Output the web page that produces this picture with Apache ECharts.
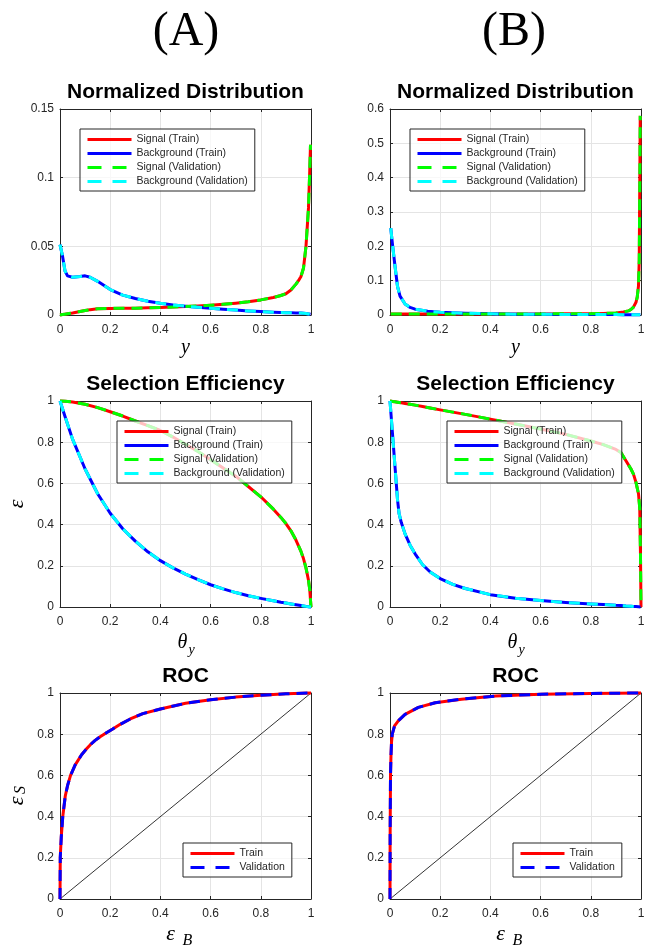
<!DOCTYPE html>
<html><head><meta charset="utf-8">
<script src="https://cdn.jsdelivr.net/npm/echarts@6/dist/echarts.min.js"></script>
<style>html,body{margin:0;padding:0;background:#fff}#c{width:662px;height:948px}</style>
</head><body><div id="c"></div>
<script>
// ---------- DATA ----------
// (A) Normalized distribution
const distA_x   = [0, 0.01, 0.02, 0.03, 0.05, 0.08, 0.1, 0.12, 0.15, 0.2, 0.25, 0.3, 0.35, 0.4, 0.45, 0.5, 0.55, 0.6, 0.65, 0.7, 0.75, 0.8, 0.85, 0.88, 0.9, 0.92, 0.94, 0.95, 0.96, 0.97, 0.98, 0.99, 0.995, 0.998];
const distA_sig = [0, 0.0003, 0.0006, 0.0009, 0.0015, 0.0026, 0.0033, 0.0039, 0.0045, 0.0048, 0.0049, 0.0050, 0.0052, 0.0055, 0.0058, 0.0062, 0.0066, 0.0071, 0.0078, 0.0086, 0.0096, 0.011, 0.0127, 0.0142, 0.0155, 0.0182, 0.0225, 0.025, 0.028, 0.034, 0.05, 0.078, 0.105, 0.124];
const distA_bkg = [0.0512, 0.043, 0.032, 0.0285, 0.0275, 0.028, 0.0285, 0.0275, 0.0245, 0.0185, 0.0145, 0.012, 0.010, 0.0085, 0.0073, 0.0064, 0.0056, 0.0049, 0.0042, 0.0036, 0.003, 0.0025, 0.002, 0.0018, 0.0017, 0.0016, 0.0015, 0.0015, 0.0014, 0.0013, 0.0011, 0.0008, 0.0006, 0.0005];
// (B) Normalized distribution
const distB_x   = [0.003, 0.01, 0.02, 0.03, 0.04, 0.06, 0.08, 0.1, 0.15, 0.2, 0.3, 0.4, 0.5, 0.6, 0.7, 0.8, 0.85, 0.9, 0.93, 0.95, 0.96, 0.97, 0.98, 0.985, 0.99, 0.993, 0.997];
const distB_sig = [0.003, 0.003, 0.003, 0.003, 0.003, 0.003, 0.003, 0.003, 0.003, 0.003, 0.003, 0.003, 0.003, 0.0032, 0.0035, 0.004, 0.0047, 0.006, 0.0085, 0.012, 0.016, 0.023, 0.037, 0.052, 0.085, 0.16, 0.58];
const distB_bkg = [0.253, 0.205, 0.142, 0.083, 0.055, 0.032, 0.022, 0.017, 0.011, 0.008, 0.005, 0.0035, 0.0025, 0.002, 0.0017, 0.0014, 0.0012, 0.0011, 0.001, 0.001, 0.0009, 0.0009, 0.0008, 0.0007, 0.0006, 0.0005, 0.0004];
// (A) Selection efficiency
const effA_x   = [0, 0.02, 0.05, 0.1, 0.15, 0.2, 0.25, 0.3, 0.35, 0.4, 0.45, 0.5, 0.55, 0.6, 0.65, 0.7, 0.75, 0.8, 0.85, 0.88, 0.9, 0.92, 0.94, 0.96, 0.97, 0.98, 0.99, 0.995, 1];
const effA_sig = [1, 0.999, 0.995, 0.984, 0.968, 0.948, 0.927, 0.903, 0.88, 0.857, 0.825, 0.79, 0.755, 0.715, 0.675, 0.635, 0.585, 0.535, 0.475, 0.435, 0.405, 0.37, 0.325, 0.27, 0.235, 0.19, 0.13, 0.085, 0];
const effA_bkg = [1, 0.925, 0.815, 0.67, 0.55, 0.455, 0.38, 0.32, 0.268, 0.225, 0.19, 0.16, 0.133, 0.108, 0.088, 0.07, 0.055, 0.042, 0.03, 0.023, 0.019, 0.015, 0.011, 0.007, 0.005, 0.003, 0.0015, 0.001, 0];
// (B) Selection efficiency
const effB_x   = [0, 0.01, 0.02, 0.03, 0.036, 0.045, 0.06, 0.08, 0.1, 0.13, 0.16, 0.2, 0.25, 0.3, 0.4, 0.5, 0.6, 0.7, 0.8, 0.85, 0.9, 0.92, 0.94, 0.96, 0.97, 0.98, 0.99, 0.995, 0.998, 1];
const effB_sig = [1, 0.998, 0.996, 0.994, 0.993, 0.991, 0.988, 0.984, 0.98, 0.973, 0.966, 0.957, 0.946, 0.935, 0.912, 0.888, 0.864, 0.838, 0.806, 0.788, 0.765, 0.75, 0.71, 0.67, 0.645, 0.605, 0.55, 0.48, 0.25, 0];
const effB_bkg = [1, 0.84, 0.68, 0.52, 0.455, 0.41, 0.355, 0.30, 0.258, 0.205, 0.17, 0.138, 0.11, 0.09, 0.06, 0.043, 0.031, 0.022, 0.015, 0.012, 0.008, 0.007, 0.005, 0.004, 0.003, 0.002, 0.001, 0.0005, 0.0002, 0];
// ROC curves (x = background efficiency, y = signal efficiency)
const rocA_x = [0, 0.001, 0.005, 0.011, 0.021, 0.03, 0.042, 0.06, 0.086, 0.105, 0.12, 0.14, 0.16, 0.185, 0.21, 0.24, 0.28, 0.33, 0.4, 0.5, 0.6, 0.7, 0.8, 0.9, 1];
const rocA_y = [0, 0.2, 0.3, 0.4, 0.5, 0.55, 0.6, 0.65, 0.7, 0.728, 0.748, 0.77, 0.788, 0.807, 0.825, 0.848, 0.874, 0.9, 0.922, 0.95, 0.967, 0.98, 0.989, 0.996, 1];
const rocB_x = [0, 0.0005, 0.002, 0.004, 0.006, 0.009, 0.018, 0.033, 0.06, 0.113, 0.18, 0.285, 0.42, 0.6, 0.8, 1];
const rocB_y = [0, 0.3, 0.6, 0.7, 0.76, 0.8, 0.84, 0.865, 0.896, 0.93, 0.953, 0.97, 0.985, 0.994, 0.998, 1];
const diag_x = [0, 1];
const diag_y = [0, 1];
// Validation curves coincide with the training curves at this resolution
const distA_sigVal = distA_sig, distA_bkgVal = distA_bkg;
const distB_sigVal = distB_sig, distB_bkgVal = distB_bkg;
const effA_sigVal = effA_sig, effA_bkgVal = effA_bkg;
const effB_sigVal = effB_sig, effB_bkgVal = effB_bkg;
const rocA_yVal = rocA_y, rocB_yVal = rocB_y;

const namesEff = ['Signal (Train)', 'Background (Train)', 'Signal (Validation)', 'Background (Validation)'];
const namesRoc = ['Train', 'Validation'];
const yMaxs  = [0.15, 0.6, 1, 1, 1, 1];
const ySteps = [0.05, 0.1, 0.2, 0.2, 0.2, 0.2];

// ---------- STYLE / LAYOUT ----------
const SANS = 'Liberation Sans, Arial, Helvetica, sans-serif';
const SERIF = 'Liberation Serif, Times New Roman, serif';
const AXIS = '#262626';
const GRIDC = '#e4e4e4';
const DASH = [11, 7];

const grids = [
  {left: 60,  top: 109, width: 251, height: 206},
  {left: 390, top: 109, width: 251, height: 206},
  {left: 60,  top: 401, width: 251, height: 206},
  {left: 390, top: 401, width: 251, height: 206},
  {left: 60,  top: 693, width: 251, height: 206},
  {left: 390, top: 693, width: 251, height: 206}
];

function axisBase(i, max, step) {
  return {
    type: 'value', gridIndex: i, min: 0, max: max, interval: step,
    axisLine: {show: true, onZero: false, lineStyle: {color: AXIS, width: 1}},
    axisTick: {show: true, inside: true, length: 3, lineStyle: {color: AXIS, width: 1}},
    axisPointer: {show: false}
  };
}
const xAxes = [], yAxes = [];
grids.forEach((g, i) => {
  xAxes.push(Object.assign(axisBase(i, 1, 0.2), {
    position: 'bottom',
    splitLine: {show: true, lineStyle: {color: GRIDC, width: 1}},
    axisLabel: {show: true, color: AXIS, fontSize: 12, fontFamily: SANS, margin: 9}
  }));
  xAxes.push(Object.assign(axisBase(i, 1, 0.2), {
    position: 'top', splitLine: {show: false}, axisLabel: {show: false}
  }));
  yAxes.push(Object.assign(axisBase(i, yMaxs[i], ySteps[i]), {
    position: 'left',
    splitLine: {show: true, lineStyle: {color: GRIDC, width: 1}},
    axisLabel: {show: true, color: AXIS, fontSize: 12, fontFamily: SANS, margin: 6}
  }));
  yAxes.push(Object.assign(axisBase(i, yMaxs[i], ySteps[i]), {
    position: 'right', splitLine: {show: false}, axisLabel: {show: false}
  }));
});

function zip(xs, ys) { return xs.map((x, k) => [x, ys[k]]); }
function curve(name, gi, xs, ys, color, dashed, opts) {
  return Object.assign({
    type: 'line', name: name, xAxisIndex: 2 * gi, yAxisIndex: 2 * gi,
    data: zip(xs, ys), symbol: 'none', showSymbol: false, clip: false,
    smooth: false, silent: true,
    emphasis: {disabled: true},
    lineStyle: {color: color, width: 3, type: dashed ? DASH : 'solid', cap: 'butt', join: 'round'},
    itemStyle: {color: color}
  }, opts || {});
}

const RED = '#ff0000', BLUE = '#0000ff', GREEN = '#00ff00', CYAN = '#00ffff';
const series = [
  curve(namesEff[0], 0, distA_x, distA_sig, RED, false),
  curve(namesEff[1], 0, distA_x, distA_bkg, BLUE, false),
  curve(namesEff[2], 0, distA_x, distA_sigVal, GREEN, true),
  curve(namesEff[3], 0, distA_x, distA_bkgVal, CYAN, true),
  curve(namesEff[0], 1, distB_x, distB_sig, RED, false),
  curve(namesEff[1], 1, distB_x, distB_bkg, BLUE, false),
  curve(namesEff[2], 1, distB_x, distB_sigVal, GREEN, true),
  curve(namesEff[3], 1, distB_x, distB_bkgVal, CYAN, true),
  curve(namesEff[0], 2, effA_x, effA_sig, RED, false),
  curve(namesEff[1], 2, effA_x, effA_bkg, BLUE, false),
  curve(namesEff[2], 2, effA_x, effA_sigVal, GREEN, true),
  curve(namesEff[3], 2, effA_x, effA_bkgVal, CYAN, true),
  curve(namesEff[0], 3, effB_x, effB_sig, RED, false),
  curve(namesEff[1], 3, effB_x, effB_bkg, BLUE, false),
  curve(namesEff[2], 3, effB_x, effB_sigVal, GREEN, true),
  curve(namesEff[3], 3, effB_x, effB_bkgVal, CYAN, true),
  curve('diagA', 4, diag_x, diag_y, '#000', false, {lineStyle: {color: '#000', width: 0.8}}),
  curve(namesRoc[0], 4, rocA_x, rocA_y, RED, false),
  curve(namesRoc[1], 4, rocA_x, rocA_yVal, BLUE, true),
  curve('diagB', 5, diag_x, diag_y, '#000', false, {lineStyle: {color: '#000', width: 0.8}}),
  curve(namesRoc[0], 5, rocB_x, rocB_y, RED, false),
  curve(namesRoc[1], 5, rocB_x, rocB_yVal, BLUE, true)
];

function legend(left, top, names) {
  return {
    orient: 'vertical', left: left, top: top, selectedMode: false,
    itemWidth: 44, itemHeight: 12, itemGap: 3, padding: [5, 7, 4, 6],
    borderColor: AXIS, borderWidth: 1, borderRadius: 0,
    backgroundColor: 'rgba(255,255,255,0.75)',
    textStyle: {fontSize: 10.5, color: AXIS, fontFamily: SANS},
    itemStyle: {opacity: 0},
    lineStyle: {width: 3},
    data: names.map(n => n.indexOf('Validation') >= 0
      ? {name: n, lineStyle: {type: [14, 11], width: 3}}
      : {name: n, lineStyle: {type: 'solid', width: 3}})
  };
}
const legends = [
  legend(80, 129, namesEff), legend(410, 129, namesEff),
  legend(117, 421, namesEff), legend(447, 421, namesEff),
  legend(183, 843, namesRoc), legend(513, 843, namesRoc)
];

function txt(x, y, text, size, extra) {
  return {
    type: 'text', x: x, y: y, silent: true,
    style: Object.assign({
      text: text, fontSize: size, fontFamily: SANS, fill: '#000',
      align: 'center', verticalAlign: 'middle',
      textAlign: 'center', textVerticalAlign: 'middle'
    }, extra || {})
  };
}
const it = {fontFamily: SERIF, fontStyle: 'italic'};
const graphics = [];
graphics.push(txt(186, 32, '(A)', 48, {fontFamily: SERIF}));
graphics.push(txt(514, 32, '(B)', 48, {fontFamily: SERIF}));
const cx = [185.5, 515.5];
cx.forEach(c => {
  graphics.push(txt(c, 92, 'Normalized Distribution', 21, {fontWeight: 'bold'}));
  graphics.push(txt(c, 384, 'Selection Efficiency', 21, {fontWeight: 'bold'}));
  graphics.push(txt(c, 676, 'ROC', 21, {fontWeight: 'bold'}));
  graphics.push(txt(c, 348, 'y', 20, it));
  graphics.push(txt(c - 3, 643, 'θ', 20, it));
  graphics.push(txt(c + 6, 650, 'y', 14, it));
  graphics.push(txt(c - 15, 934, 'ε', 22, it));
  graphics.push(txt(c + 2, 941, 'B', 16, it));
});
graphics.push({type: 'group', x: 17, y: 504, rotation: Math.PI / 2,
  children: [txt(0, 0, 'ε', 22, it)]});
graphics.push({type: 'group', x: 17, y: 796, rotation: Math.PI / 2,
  children: [txt(-5, 0, 'ε', 22, it), txt(6, 4, 'S', 16, it)]});

const chart = echarts.init(document.getElementById('c'), null, {renderer: 'canvas'});
chart.setOption({
  backgroundColor: '#fff',
  animation: false,
  grid: grids,
  xAxis: xAxes,
  yAxis: yAxes,
  legend: legends,
  series: series,
  graphic: graphics
});
</script></body></html>
